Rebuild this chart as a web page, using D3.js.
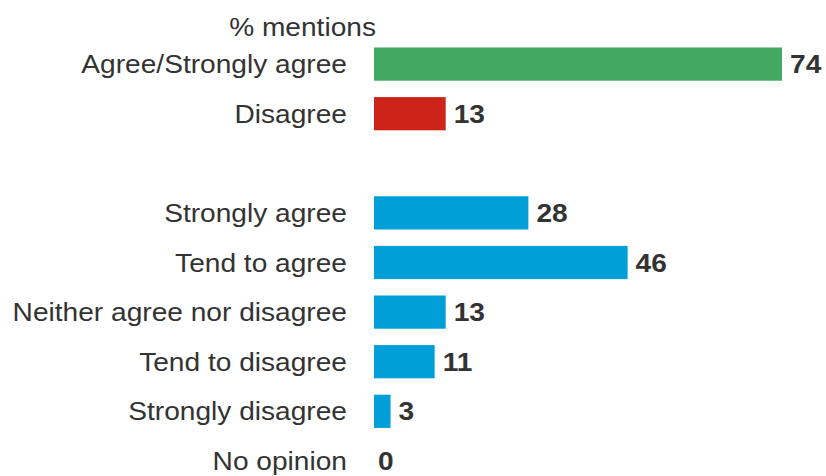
<!DOCTYPE html>
<html>
<head>
<meta charset="utf-8">
<script src="https://cdn.jsdelivr.net/npm/d3@7"></script>
<style>
  html, body { margin: 0; padding: 0; background: #fff; }
  svg { display: block; font-family: "Liberation Sans", Arial, sans-serif; }
</style>
</head>
<body>
<svg id="chart" width="826" height="476"></svg>
<script>
// Survey responses, % mentions
const categories = [
  "Agree/Strongly agree",
  "Disagree",
  "",
  "Strongly agree",
  "Tend to agree",
  "Neither agree nor disagree",
  "Tend to disagree",
  "Strongly disagree",
  "No opinion"
];
const values = [74, 13, null, 28, 46, 13, 11, 3, 0];
const groups = ["net", "net", null, "detail", "detail", "detail", "detail", "detail", "detail"];
const axisTitle = "% mentions";

const colorByCategory = {
  "Agree/Strongly agree": "#43a862",
  "Disagree": "#cc2418"
};
const detailColor = "#009fd7";

const rows = categories.map((c, i) => ({ key: "r" + i, label: c, value: values[i], group: groups[i] }));

const svg = d3.select("#chart");
const x0 = 374;
const x = d3.scaleLinear().domain([0, 74]).range([x0, 782]);
const y = d3.scaleBand()
  .domain(rows.map(d => d.key))
  .range([39.3, 485.7])
  .paddingInner(0.33)
  .paddingOuter(0.165);

const fontSize = 25;
const capShift = 9.1;
const stretch = 1.125; // wide-set lettering

const data = rows.filter(d => d.value !== null);

function place(px, py) {
  return `translate(${px},${py}) scale(${stretch},1)`;
}

// Category labels
svg.append("g").selectAll("text")
  .data(data)
  .join("text")
  .attr("transform", d => place(347, y(d.key) + y.bandwidth() / 2 + capShift))
  .attr("text-anchor", "end")
  .attr("font-size", fontSize)
  .attr("fill", "#333")
  .text(d => d.label);

// Bars
svg.append("g").selectAll("rect")
  .data(data)
  .join("rect")
  .attr("x", x(0))
  .attr("y", d => y(d.key))
  .attr("width", d => x(d.value) - x(0))
  .attr("height", y.bandwidth())
  .attr("fill", d => colorByCategory[d.label] || detailColor);

// Value labels
svg.append("g").selectAll("text")
  .data(data)
  .join("text")
  .attr("transform", d => place(x(d.value) + (d.value > 0 ? 8 : 4), y(d.key) + y.bandwidth() / 2 + capShift))
  .attr("font-size", fontSize)
  .attr("font-weight", "bold")
  .attr("fill", "#333")
  .text(d => d.value);

// Axis title
svg.append("text")
  .attr("transform", place(376, 36))
  .attr("text-anchor", "end")
  .attr("font-size", fontSize)
  .attr("fill", "#333")
  .text(axisTitle);
</script>
</body>
</html>
